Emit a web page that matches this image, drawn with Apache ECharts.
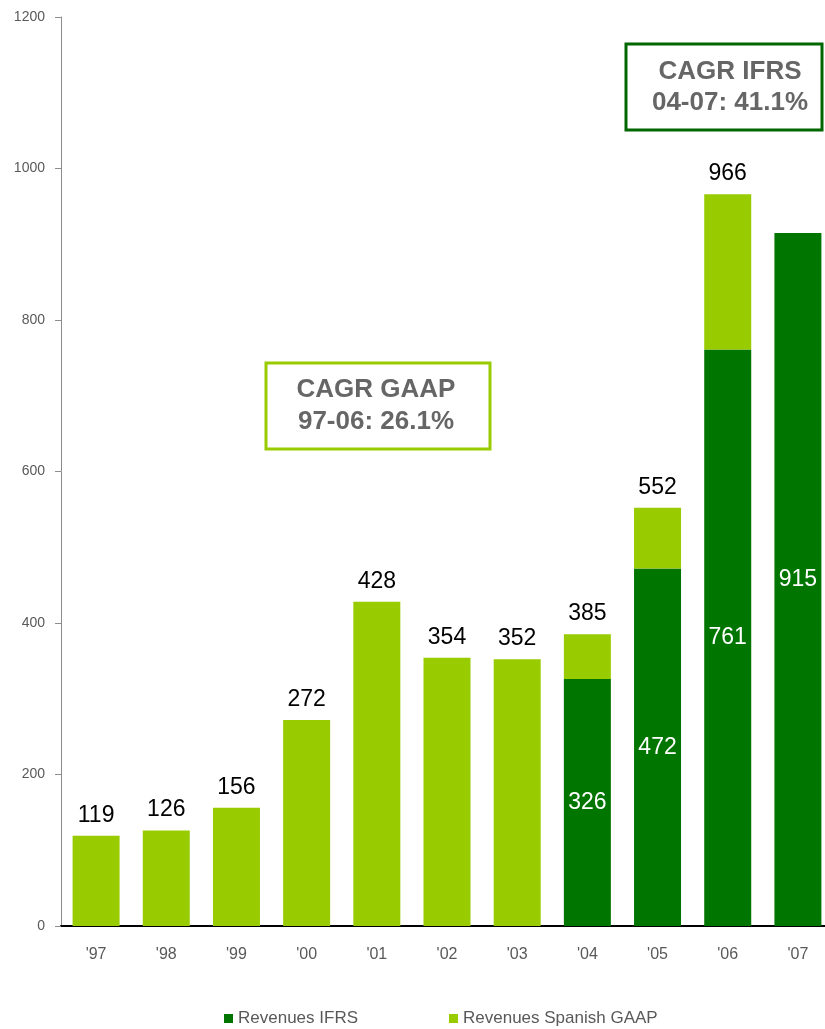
<!DOCTYPE html>
<html>
<head>
<meta charset="utf-8">
<script src="https://cdn.jsdelivr.net/npm/echarts@6/dist/echarts.min.js"></script>
<style>
  html, body { margin: 0; padding: 0; background: #fff; }
  #main { width: 825px; height: 1029px; }
</style>
</head>
<body>
<div id="main"></div>
<script>
// data
var years = ["'97", "'98", "'99", "'00", "'01", "'02", "'03", "'04", "'05", "'06", "'07"];
var totals = [119, 126, 156, 272, 428, 354, 352, 385, 552, 966, 915];
var ifrs = [null, null, null, null, null, null, null, 326, 472, 761, 915];
var yTicks = [0, 200, 400, 600, 800, 1000, 1200];

var darkGreen = '#007500';
var lightGreen = '#99cc00';
var greyText = '#595959';

// GAAP part on top of IFRS (the whole bar before '04, nothing in '07)
var gaap = [];
for (var i = 0; i < years.length; i++) {
  if (ifrs[i] === null) {
    gaap.push(totals[i]);
  } else if (totals[i] > ifrs[i]) {
    gaap.push(totals[i] - ifrs[i]);
  } else {
    gaap.push(null);
  }
}

var myChart = echarts.init(document.getElementById('main'));

var option = {
  animation: false,
  backgroundColor: '#fff',
  textStyle: { fontFamily: 'Liberation Sans, Arial, sans-serif' },
  grid: { left: 61, width: 772, top: 17, bottom: 103, containLabel: false, outerBoundsMode: 'none' },
  legend: {
    left: 224,
    top: 1010,
    padding: 0,
    icon: 'rect',
    itemWidth: 9,
    itemHeight: 9,
    itemGap: 91,
    textStyle: { color: greyText, fontSize: 17, fontFamily: 'Liberation Sans, Arial, sans-serif' },
    data: ['Revenues IFRS', 'Revenues Spanish GAAP']
  },
  xAxis: {
    type: 'category',
    data: years,
    axisLine: { lineStyle: { color: '#000', width: 2 } },
    axisTick: { show: false },
    axisLabel: { color: greyText, fontSize: 16, margin: 21 }
  },
  yAxis: {
    type: 'value',
    min: yTicks[0],
    max: yTicks[yTicks.length - 1],
    interval: yTicks[1] - yTicks[0],
    axisLine: { show: true, lineStyle: { color: '#8c8c8c', width: 1 } },
    axisTick: { show: true, length: 6, lineStyle: { color: '#8c8c8c' } },
    splitLine: { show: false },
    axisLabel: {
      color: greyText, fontSize: 14, margin: 16,
      formatter: function (v) { return String(v); }
    }
  },
  series: [
    {
      name: 'Revenues IFRS',
      type: 'bar',
      stack: 'rev',
      barWidth: 47,
      data: ifrs,
      itemStyle: { color: darkGreen },
      label: {
        show: true,
        position: 'inside',
        color: '#fff',
        fontSize: 23
      }
    },
    {
      name: 'Revenues Spanish GAAP',
      type: 'bar',
      stack: 'rev',
      barWidth: 47,
      data: gaap,
      itemStyle: { color: lightGreen },
      label: {
        show: true,
        position: 'top',
        distance: 9,
        color: '#000',
        fontSize: 23,
        formatter: function (p) { return totals[p.dataIndex]; }
      }
    }
  ],
  graphic: [
    {
      type: 'rect',
      shape: { x: 266, y: 363, width: 224, height: 86 },
      style: { fill: '#fff', stroke: lightGreen, lineWidth: 3 }
    },
    {
      type: 'text',
      x: 376, y: 390,
      style: {
        text: 'CAGR GAAP', fill: '#666', fontSize: 26, fontWeight: 'bold',
        fontFamily: 'Liberation Sans, Arial, sans-serif', align: 'center', verticalAlign: 'middle'
      }
    },
    {
      type: 'text',
      x: 376, y: 422,
      style: {
        text: '97-06: 26.1%', fill: '#666', fontSize: 26, fontWeight: 'bold',
        fontFamily: 'Liberation Sans, Arial, sans-serif', align: 'center', verticalAlign: 'middle'
      }
    },
    {
      type: 'rect',
      shape: { x: 626, y: 44, width: 196, height: 86 },
      style: { fill: '#fff', stroke: '#006600', lineWidth: 3 }
    },
    {
      type: 'text',
      x: 730, y: 72,
      style: {
        text: 'CAGR IFRS', fill: '#666', fontSize: 26, fontWeight: 'bold',
        fontFamily: 'Liberation Sans, Arial, sans-serif', align: 'center', verticalAlign: 'middle'
      }
    },
    {
      type: 'text',
      x: 730, y: 103,
      style: {
        text: '04-07: 41.1%', fill: '#666', fontSize: 26, fontWeight: 'bold',
        fontFamily: 'Liberation Sans, Arial, sans-serif', align: 'center', verticalAlign: 'middle'
      }
    }
  ]
};

myChart.setOption(option);
</script>
</body>
</html>
